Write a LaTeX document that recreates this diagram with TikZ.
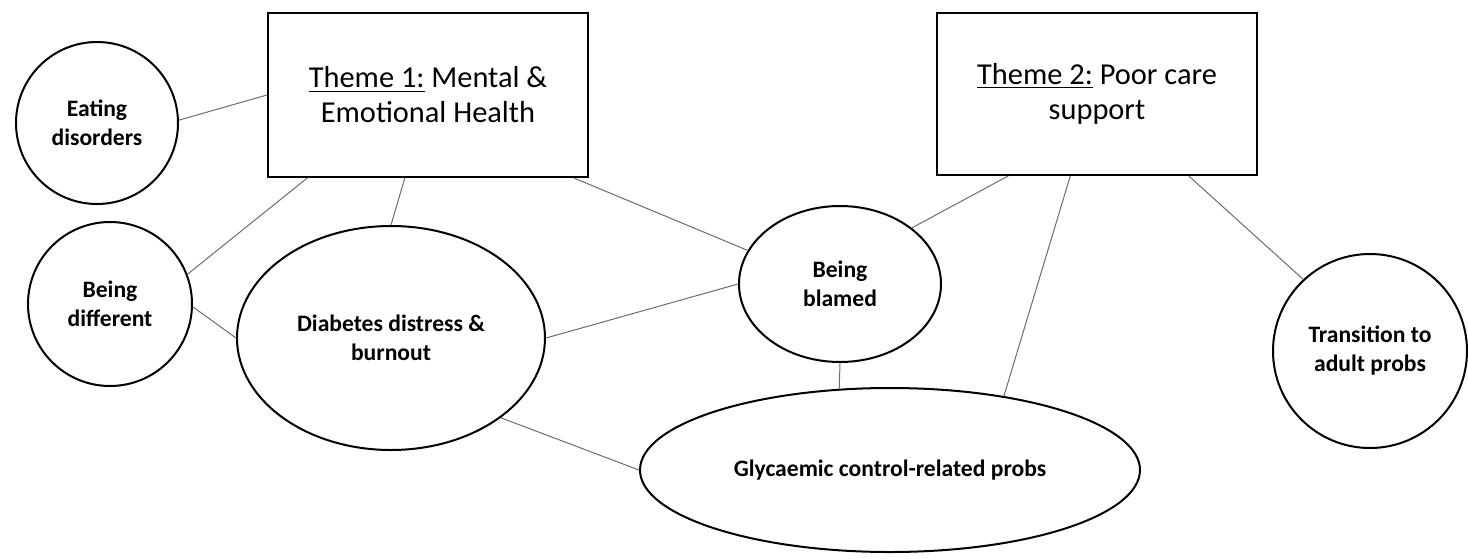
\documentclass[tikz,border=0pt]{standalone}
\usepackage{fontspec}
\setmainfont{Carlito}
\usetikzlibrary{calc,shapes.geometric}
\tikzset{line/.style={draw, gray!85!black, line width=0.5pt}}

\begin{document}
\begin{tikzpicture}[x=0.5pt, y=-0.5pt]
\tikzstyle{theme} = [rectangle, draw, line width=1pt, align=center, minimum width=160pt, minimum height=82pt, inner sep=0pt, font=\fontsize{15.2}{17.5}\selectfont]
\tikzstyle{sub} = [ellipse, draw, line width=1pt, align=center, inner sep=0pt, font=\bfseries\fontsize{11.8}{14.5}\selectfont]
\tikzstyle{round} = [circle, draw, line width=1pt, align=center, inner sep=0pt, minimum size=81pt, font=\bfseries\fontsize{11.8}{14.5}\selectfont]

\useasboundingbox (0,0) rectangle (1468,558);

\node [theme](theme1) at (428,95) {\underline{Theme 1:} Mental \&\\Emotional Health};
\node [theme, minimum height=81pt](theme2) at (1097,94) {\underline{Theme 2:} Poor care\\support};

\node [round](eating) at (97,123) {Eating\\disorders};
\node [round, minimum size=82pt](different) at (110,304) {Being\\different};
\node [sub, minimum width=154pt, minimum height=112pt](distress) at (391,338) {Diabetes distress \&\\burnout};
\node [sub, minimum width=101pt, minimum height=78pt](blamed) at (840,284) {Being\\blamed};
\node [sub, minimum width=250pt, minimum height=82pt](glycaemic) at (890,470) {Glycaemic control-related probs};
\node [round, minimum size=97pt](transition) at (1370,351) {Transition to\\adult probs};

\path [line] (eating.2) -- (theme1.west);
\path [line] ($(theme1.south west)!0.125!(theme1.south east)$) -- (different.21);
\path [line] ($(theme1.south west)!0.428!(theme1.south east)$) -- (distress.north);
\path [line] ($(theme1.south west)!0.953!(theme1.south east)$) -- (blamed.160);
\path [line] (different.358) -- (distress.west);
\path [line] (distress.east) -- (blamed.180);
\path [line] (distress.324) -- (glycaemic.west);
\path [line] ($(theme2.south west)!0.224!(theme2.south east)$) -- (blamed.38);
\path [line] ($(theme2.south west)!0.417!(theme2.south east)$) -- (glycaemic.33);
\path [line] ($(theme2.south west)!0.785!(theme2.south east)$) -- (transition.133);
\path [line] (blamed.south) -- (glycaemic.122);

\end{tikzpicture}
\end{document}
